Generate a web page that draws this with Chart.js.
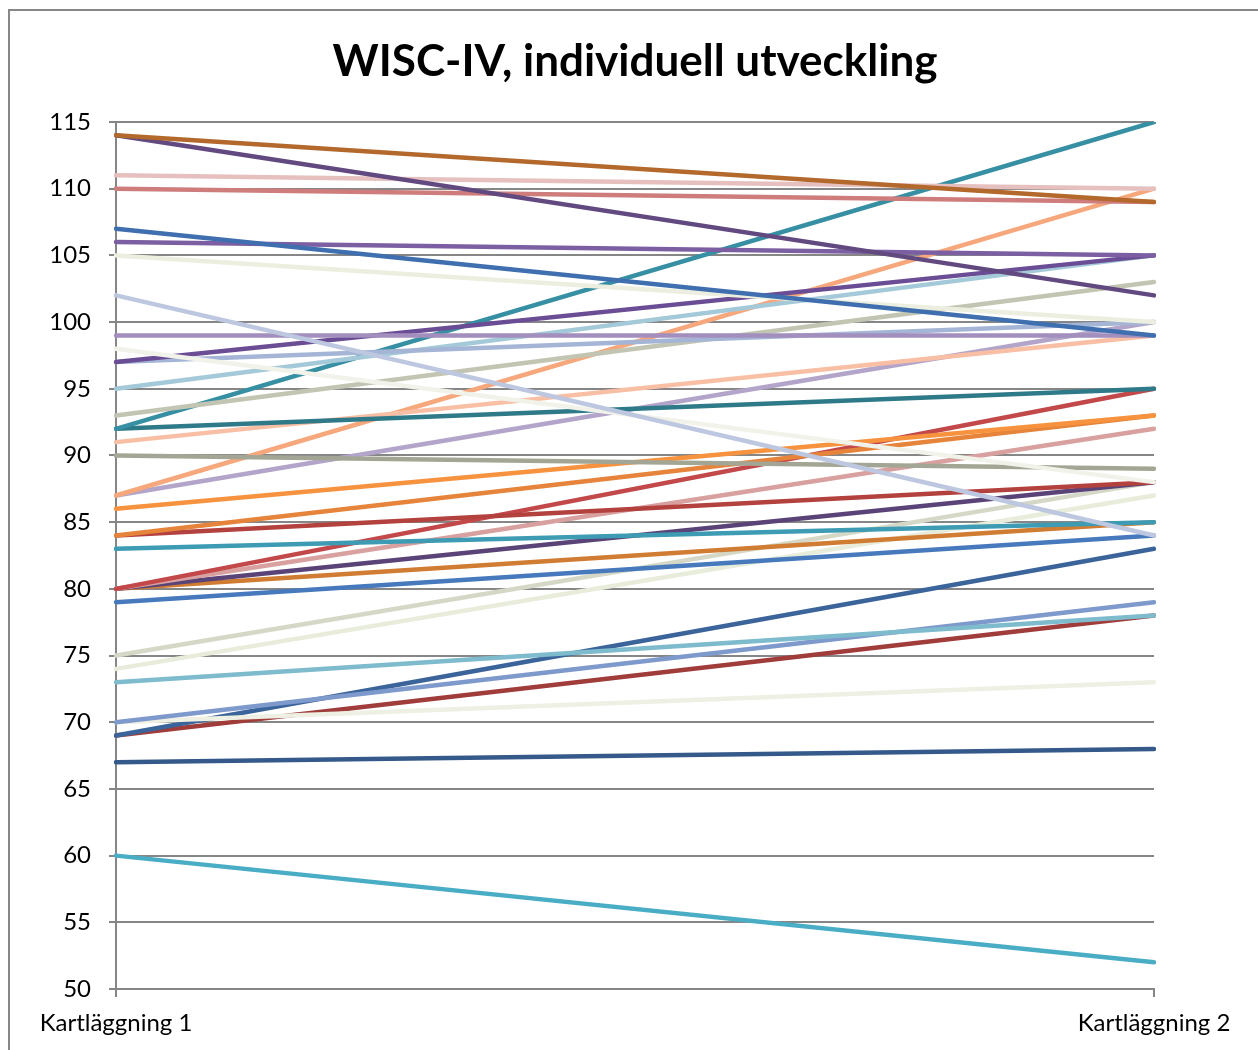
<!DOCTYPE html>
<html>
<head>
<meta charset="utf-8">
<script src="https://cdn.jsdelivr.net/npm/chart.js@4"></script>
<style>
  html, body { margin: 0; padding: 0; background: #fff; overflow: hidden; }
  #wrap { position: absolute; left: 0; top: 0; width: 1258px; height: 1050px; }
  #frame { position: absolute; left: 8px; top: 9px; width: 1300px; height: 1100px;
           border: 2px solid #878787; pointer-events: none; }
</style>
</head>
<body>
<div id="wrap"><canvas id="myChart" width="1258" height="1050"></canvas></div>
<div id="frame"></div>
<script>
// two measurement occasions
var categories = ['Kartläggning 1', 'Kartläggning 2'];

// one value per child and occasion
var kartlaggning1 = [114, 114, 111, 110, 107, 106, 105, 102, 99, 98, 97, 97, 95, 93, 92, 92, 91, 90, 87, 87,
                     86, 84, 84, 83, 80, 80, 80, 80, 79, 75, 74, 73, 70, 70, 69, 69, 67, 60];
var kartlaggning2 = [109, 102, 110, 109, 99, 105, 100, 84, 99, 88, 105, 100, 105, 103, 115, 95, 99, 89, 110, 100,
                     93, 93, 88, 85, 95, 92, 88, 85, 84, 88, 87, 78, 79, 73, 83, 78, 68, 52];

var yTicks = { min: 50, max: 115, step: 5 };
var chartTitle = 'WISC-IV, individuell utveckling';

var lineColors = ['#B3692B', '#624A80', '#E6C0BF', '#CF7D7C', '#3F6FAE', '#7C5FA3', '#ECEFE0', '#BDC7E0',
                  '#A28FBD', '#F1F3EA', '#6A4D94', '#A4B5D6', '#A4C9D8', '#C3C5B3', '#378FA3', '#2F7A89',
                  '#F8BFA4', '#A4A695', '#F6A77B', '#B3A5C9', '#F7933F', '#E5843A', '#B3423F', '#3D9BB3',
                  '#C3484A', '#D8A19F', '#5A4477', '#D17C33', '#4779BD', '#D5D8C6', '#E8ECDA', '#7DBBCD',
                  '#7E99CC', '#EEF0E3', '#3B649A', '#A03C3A', '#34598A', '#49ADC6'];

var datasets = kartlaggning1.map(function (v, i) {
    return {
        label: 'Barn ' + (i + 1),
        data: [v, kartlaggning2[i]],
        borderColor: lineColors[i],
        backgroundColor: lineColors[i],
        borderWidth: 4.5,
        borderCapStyle: 'round',
        pointRadius: 0,
        fill: false,
        tension: 0
    };
});

var gridGray = '#868686';

// title centred on the whole picture, not only the plot area
var titlePlugin = {
    id: 'pageTitle',
    afterDraw: function (chart) {
        var c = chart.ctx;
        c.save();
        c.font = 'bold 44px Lato';
        c.fillStyle = '#000';
        c.textAlign = 'center';
        c.textBaseline = 'middle';
        c.fillText(chartTitle, chart.width / 2 + 6, 62);
        c.restore();
    }
};

var ctx = document.getElementById('myChart').getContext('2d');
var myChart = new Chart(ctx, {
    type: 'line',
    data: {
        labels: categories,
        datasets: datasets
    },
    plugins: [titlePlugin],
    options: {
        responsive: false,
        animation: false,
        layout: { padding: { left: 0, right: 104, top: 122, bottom: 0 } },
        plugins: {
            legend: { display: false },
            tooltip: { enabled: false },
            title: { display: false }
        },
        scales: {
            x: {
                offset: false,
                grid: { display: true, drawOnChartArea: false, drawTicks: true, tickLength: 8, color: gridGray, lineWidth: 2 },
                border: { display: true, color: gridGray, width: 2 },
                ticks: { color: '#000', font: { family: 'Lato', size: 24 }, padding: 12, maxRotation: 0 },
                afterFit: function (s) { s.height = 61; }
            },
            y: {
                min: yTicks.min,
                max: yTicks.max,
                ticks: { stepSize: yTicks.step, color: '#000', font: { family: 'Lato', size: 24 }, padding: 18 },
                grid: { color: gridGray, lineWidth: 2, tickLength: 7 },
                border: { display: true, color: gridGray, width: 2 },
                afterFit: function (s) { s.width = 116; }
            }
        }
    }
});
</script>
</body>
</html>
